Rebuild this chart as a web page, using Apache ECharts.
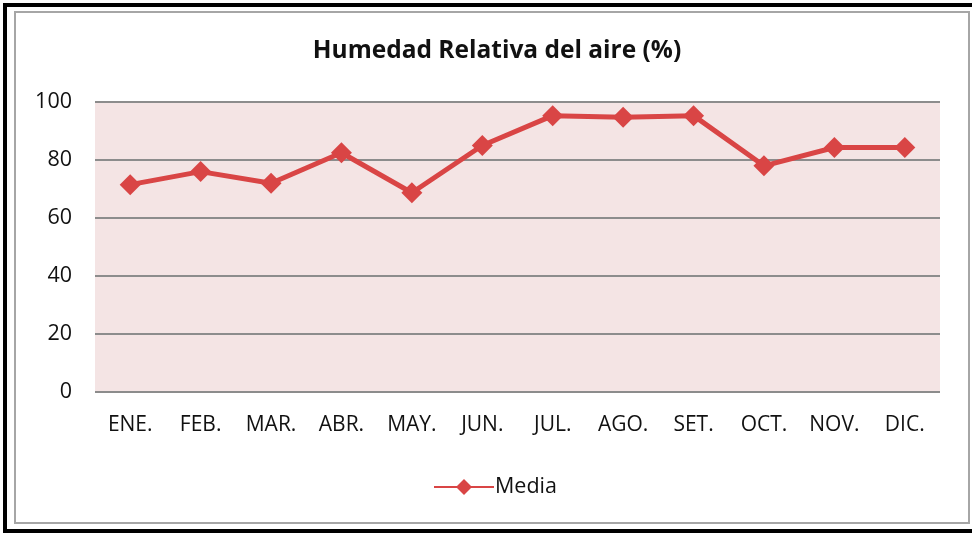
<!DOCTYPE html>
<html>
<head>
<meta charset="utf-8">
<script src="https://cdn.jsdelivr.net/npm/echarts@6/dist/echarts.min.js"></script>
<style>
html,body{margin:0;padding:0;background:#fff;}
#c{width:972px;height:534px;}
</style>
</head>
<body>
<div id="c"></div>
<script>
const categories = ['ENE.', 'FEB.', 'MAR.', 'ABR.', 'MAY.', 'JUN.', 'JUL.', 'AGO.', 'SET.', 'OCT.', 'NOV.', 'DIC.'];
const media = [71.5, 76, 72, 82.5, 68.7, 85, 95.3, 94.7, 95.3, 78, 84.3, 84.3];
const seriesName = 'Media';
const titleText = 'Humedad Relativa del aire (%)';

const chart = echarts.init(document.getElementById('c'), null, {renderer: 'canvas'});
const red = '#d94545';
const font = '"Open Sans", "Noto Sans", sans-serif';
chart.setOption({
  animation: false,
  backgroundColor: '#ffffff',
  title: {
    text: titleText,
    left: 492,
    textAlign: 'center',
    top: 34,
    textStyle: {fontFamily: font, fontWeight: 'bold', fontSize: 24.5, color: '#111'}
  },
  legend: {
    data: [seriesName],
    left: 428,
    top: 471,
    itemWidth: 60,
    itemHeight: 20,
    itemGap: 2,
    textStyle: {fontFamily: font, fontSize: 21.5, color: '#111', padding: [0, 0, 0, -4]}
  },
  grid: {left: 95, right: 32, top: 102, bottom: 142, containLabel: false,
         show: true, backgroundColor: '#f4e4e4', borderWidth: 0},
  xAxis: {
    type: 'category',
    data: categories,
    boundaryGap: true,
    axisLine: {show: false},
    axisTick: {show: false},
    axisLabel: {fontFamily: font, fontSize: 21, color: '#111', margin: 23}
  },
  yAxis: {
    type: 'value',
    min: 0, max: 100, interval: 20,
    axisLine: {show: false},
    axisTick: {show: false},
    splitLine: {lineStyle: {color: '#8c8c8c', width: 2}},
    axisLabel: {fontFamily: font, fontSize: 21.5, color: '#111', margin: 23}
  },
  series: [{
    name: seriesName,
    type: 'line',
    data: media,
    symbol: 'diamond',
    symbolSize: 21,
    lineStyle: {color: red, width: 5},
    itemStyle: {color: red}
  }],
  graphic: [
    {type: 'line', shape: {x1: 5, y1: 5, x2: 972, y2: 5},
     style: {stroke: '#000', lineWidth: 4}, silent: true, z: 100},
    {type: 'line', shape: {x1: 5, y1: 3, x2: 5, y2: 533},
     style: {stroke: '#000', lineWidth: 4}, silent: true, z: 100},
    {type: 'line', shape: {x1: 3, y1: 531, x2: 972, y2: 531},
     style: {stroke: '#000', lineWidth: 4}, silent: true, z: 100},
    {type: 'rect', shape: {x: 15, y: 12, width: 954, height: 511},
     style: {fill: 'none', stroke: '#a6a6a6', lineWidth: 2}, silent: true, z: 100}
  ]
});
</script>
</body>
</html>
